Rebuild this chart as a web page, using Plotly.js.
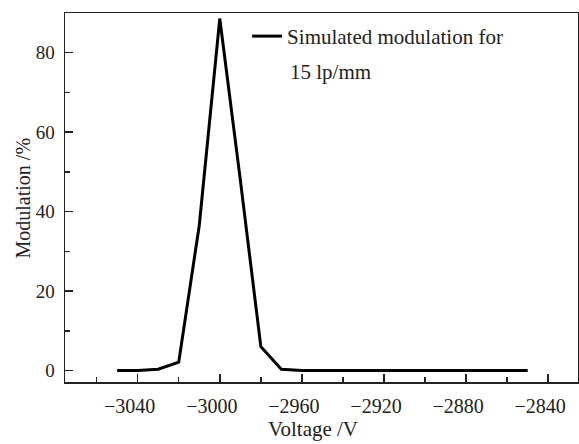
<!DOCTYPE html>
<html>
<head>
<meta charset="utf-8">
<script src="https://cdn.plot.ly/plotly-3.0.1.min.js"></script>
<style>html,body{margin:0;padding:0;background:#fff;}#chart{width:579px;height:444px;}</style>
</head>
<body>
<div id="chart"></div>
<script>
const voltage = [-3050, -3040, -3030, -3020, -3010, -3000, -2990, -2980, -2970, -2960, -2950, -2940, -2930, -2920, -2910, -2900, -2890, -2880, -2870, -2860, -2850];
const modulation = [0, 0, 0.3, 2.1, 36.5, 88.6, 48, 6.0, 0.3, 0, 0, 0, 0, 0, 0, 0, 0, 0, 0, 0, 0];
const seriesName = "Simulated modulation for";
const seriesNameLine2 = "15 lp/mm";
const xTitle = "Voltage /V";
const yTitle = "Modulation /%";
const xTicks = [-3040, -3000, -2960, -2920, -2880, -2840];
const yTicks = [0, 20, 40, 60, 80];

const fam = "Liberation Serif, Times New Roman, serif";
const txt = "#222";

Plotly.newPlot("chart", [{
  x: voltage, y: modulation, type: "scatter", mode: "lines",
  name: seriesName, line: {color: "#000", width: 3}
}], {
  width: 579, height: 444,
  margin: {l: 65, r: 1, t: 13, b: 62},
  paper_bgcolor: "#fff", plot_bgcolor: "#fff",
  font: {family: fam, size: 20, color: txt},
  showlegend: true,
  legend: {x: 0.355, y: 0.992, xanchor: "left", yanchor: "top", bgcolor: "rgba(0,0,0,0)",
    font: {family: fam, size: 21, color: txt}},
  annotations: [{
    text: seriesNameLine2, xref: "paper", yref: "paper", x: 0.4347, y: 0.841,
    xanchor: "left", yanchor: "middle", showarrow: false,
    font: {family: fam, size: 21, color: txt}
  }, {
    text: xTitle, xref: "paper", yref: "paper", x: 0.4825, y: -0.1274,
    xanchor: "center", yanchor: "middle", showarrow: false, borderpad: 0,
    font: {family: fam, size: 21, color: txt}
  }, {
    text: yTitle, xref: "paper", yref: "paper", x: -0.0819, y: 0.5, textangle: -90,
    xanchor: "center", yanchor: "middle", showarrow: false,
    font: {family: fam, size: 20, color: txt}
  }],
  xaxis: {
    range: [-3075.4, -2825.5], tickvals: xTicks, ticks: "inside", ticklen: 8, tickwidth: 1.5,
    tickcolor: txt, showline: true, linecolor: txt, linewidth: 1.5, mirror: true,
    showgrid: false, zeroline: false, ticklabelstandoff: 5, ticklabelshift: -8,
    tickfont: {family: fam, size: 20, color: txt},
    minor: {dtick: 20, tick0: -3040, ticks: "inside", ticklen: 5, tickwidth: 1.5, tickcolor: txt, showgrid: false}
  },
  yaxis: {
    range: [-2.9, 90], tickvals: yTicks, ticks: "inside", ticklen: 8, tickwidth: 1.5,
    tickcolor: txt, showline: true, linecolor: txt, linewidth: 1.5, mirror: true,
    showgrid: false, zeroline: false, ticklabelstandoff: 5,
    tickfont: {family: fam, size: 19, color: txt},
    minor: {dtick: 10, tick0: 0, ticks: "inside", ticklen: 5, tickwidth: 1.5, tickcolor: txt, showgrid: false}
  }
}, {displayModeBar: false, staticPlot: true});
</script>
</body>
</html>
